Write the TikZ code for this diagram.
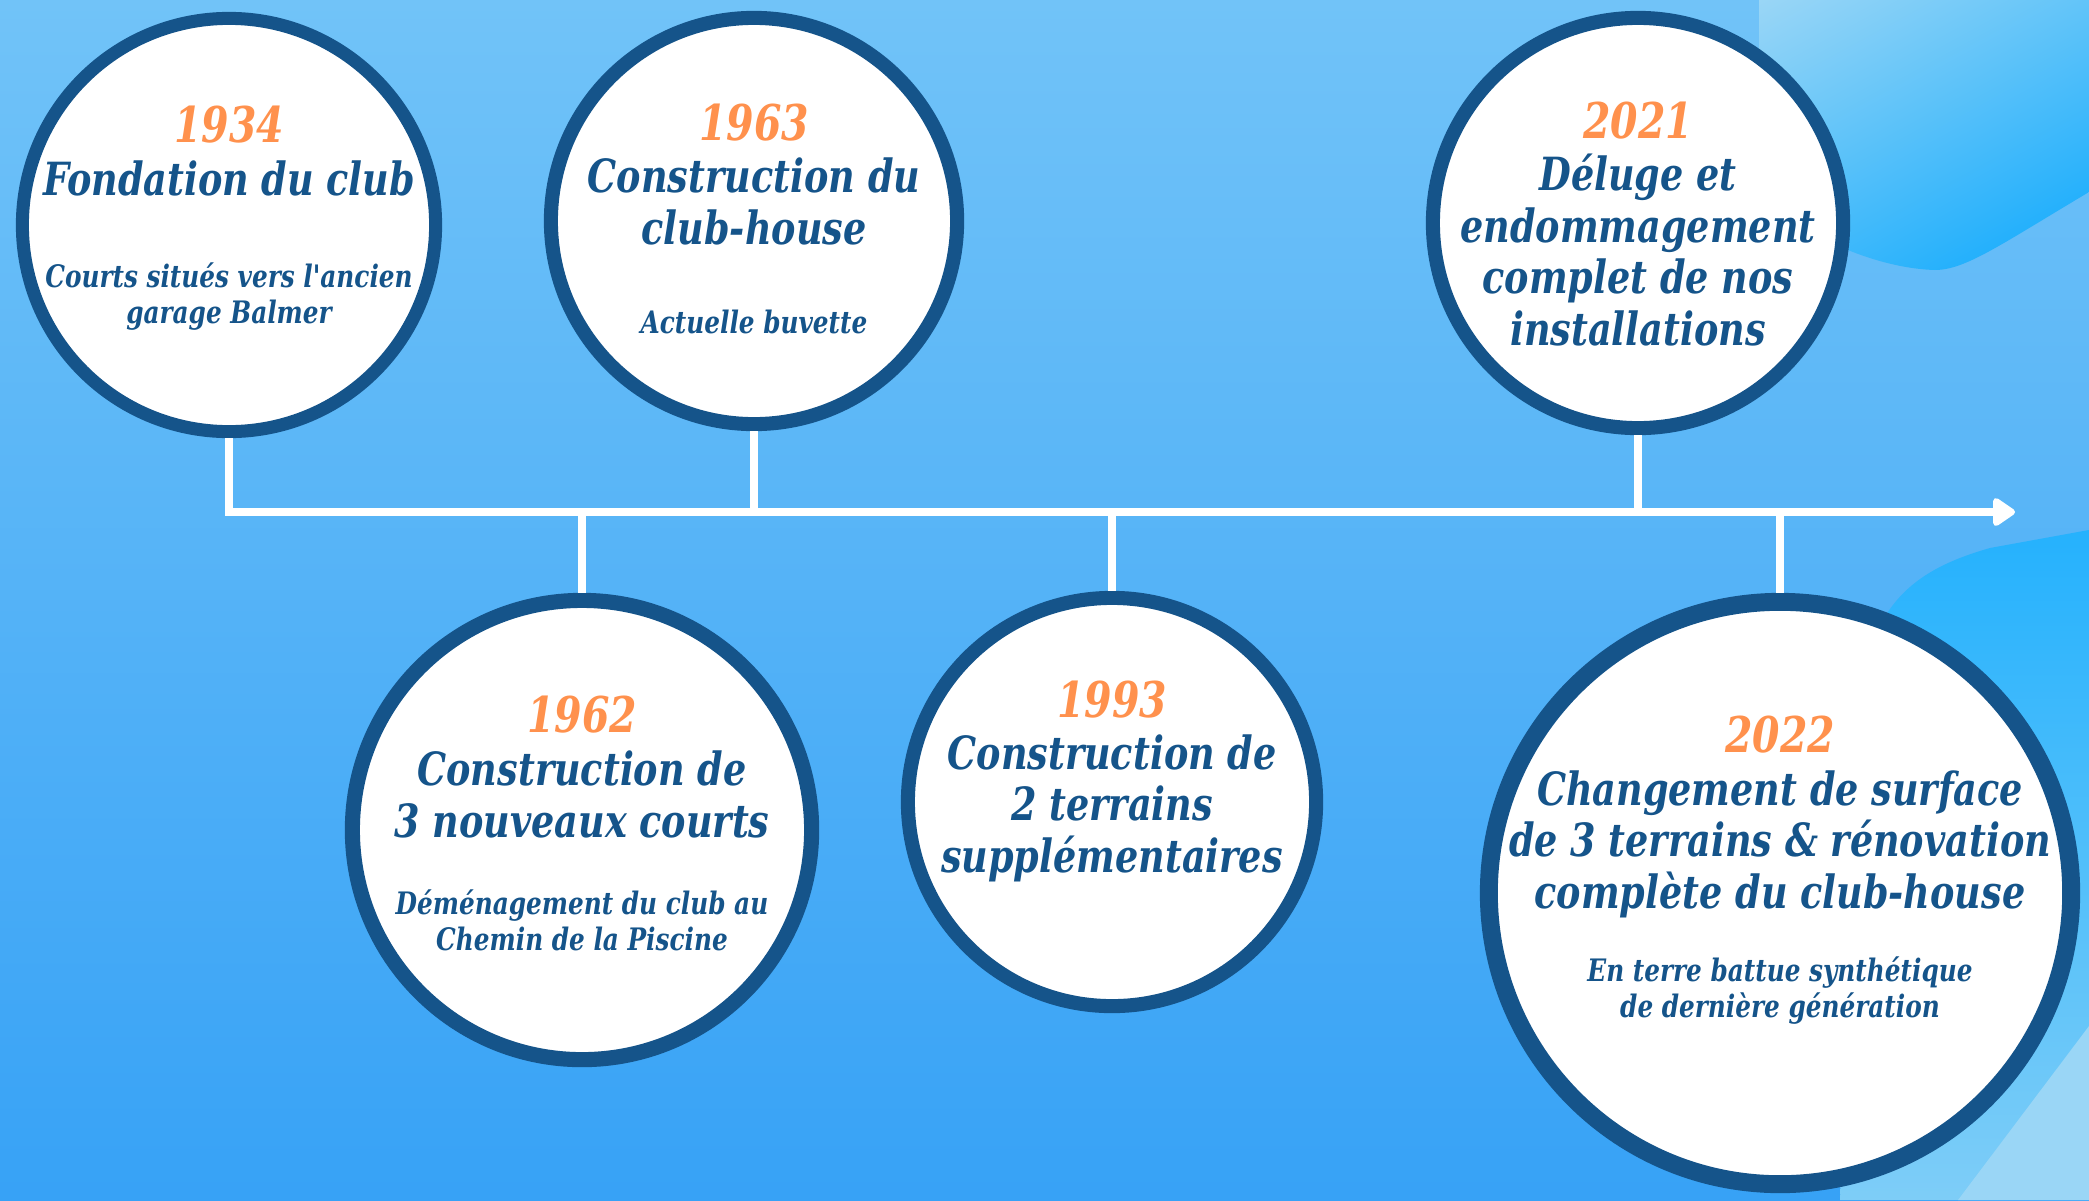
\documentclass[tikz,border=0pt]{standalone}
\usepackage{fontspec}
\newfontfamily\clubfont{DejaVu Serif Bold Italic}[FakeStretch=0.8]
\usetikzlibrary{arrows.meta, positioning, shadings}
\definecolor{ringblue}{HTML}{15548A}
\definecolor{yearorange}{HTML}{FF914D}
\definecolor{skytop}{HTML}{71C3F8}
\definecolor{skybottom}{HTML}{37A2F6}
\definecolor{blobpale}{HTML}{9AD6F6}
\definecolor{blobcyan}{HTML}{0DA9FD}
\tikzset{
  event/.style = {circle, draw=ringblue, fill=white, inner sep=0pt},
  year/.style = {anchor=base, text=yearorange, font=\clubfont\fontsize{14}{16}\selectfont},
  headline/.style = {anchor=base, text=ringblue, align=center, font=\clubfont\fontsize{13}{14.6}\selectfont},
  detail/.style = {anchor=base, text=ringblue, align=center, font=\clubfont\fontsize{8.8}{10.2}\selectfont},
  stem/.style = {draw=white, line width=2.3pt},
  axis/.style = {stem, -{Triangle[length=7pt, width=9pt, round]}}
}

\begin{document}
\begin{tikzpicture}[x=0.01cm, y=-0.01cm]

  % Background and blobs
  \useasboundingbox (0,0) rectangle (2089,1200);
  \shade[top color=skytop, bottom color=skybottom] (0,0) rectangle (2089,1200);
  \shade[upper left=blobpale, upper right=blobpale!60!blobcyan, lower left=blobcyan!60!blobpale, lower right=blobcyan]
    (1759,0) -- (1759,170) .. controls (1759,215) and (1860,268) .. (1935,270)
    .. controls (1965,270) and (2000,245) .. (2089,192) -- (2089,0) -- cycle;
  \shade[top color=blobcyan!90!white, bottom color=blobpale!80!blobcyan]
    (1860,700) .. controls (1870,600) and (1920,568) .. (1990,548) -- (2089,530)
    -- (2089,1200) -- (1840,1200) -- cycle;
  \fill[blobpale] (1958,1200) -- (2089,1026) -- (2089,1200) -- cycle;

  % Events above the axis
  \node (e1934) [event, line width=3.7pt, minimum size=4.13cm] at (229,225) {};
  \node (e1963) [event, line width=4pt, minimum size=4.06cm] at (754,221) {};
  \node (e2021) [event, line width=4pt, minimum size=4.10cm] at (1638,223) {};

  % Events below the axis
  \node (e1962) [event, line width=4.3pt, minimum size=4.59cm] at (582,830) {};
  \node (e1993) [event, line width=4pt, minimum size=4.08cm] at (1112,802) {};
  \node (e2022) [event, line width=5.1pt, minimum size=5.82cm] at (1780,893) {};

  % Axis and stems
  \coordinate (tip) at (2015,512);
  \draw[axis] (e1934.south) |- (tip);
  \foreach \e in {e1963, e2021}
    \draw[stem] (\e.south) -- (\e.south |- tip);
  \foreach \e in {e1962, e1993, e2022}
    \draw[stem] (\e.north) -- (\e.north |- tip);

  % 1934 (multi-line nodes sit on their last baseline)
  \node (y1934) [year] at (229,142) {1934};
  \node (t1934) [headline] at (229,195) {Fondation du club};
  \node (d1934) [detail] at (229,323) {Courts situés vers l'ancien\\garage Balmer};

  % 1963
  \node (y1963) [year] at (754,140) {1963};
  \node (t1963) [headline] at (754,244) {Construction du\\club-house};
  \node (d1963) [detail] at (754,333) {Actuelle buvette};

  % 2021
  \node (y2021) [year] at (1638,138) {2021};
  \node (t2021) [headline] at (1638,345) {Déluge et\\endommagement\\complet de nos\\installations};

  % 1962
  \node (y1962) [year] at (582,732) {1962};
  \node (t1962) [headline] at (582,837) {Construction de\\3 nouveaux courts};
  \node (d1962) [detail] at (582,950) {Déménagement du club au\\Chemin de la Piscine};

  % 1993
  \node (y1993) [year] at (1112,717) {1993};
  \node (t1993) [headline] at (1112,872) {Construction de\\2 terrains\\supplémentaires};

  % 2022
  \node (y2022) [year] at (1780,752) {2022};
  \node (t2022) [headline] at (1780,908) {Changement de surface\\de 3 terrains \& rénovation\\complète du club-house};
  \node (d2022) [detail] at (1780,1017) {En terre battue synthétique\\de dernière génération};

\end{tikzpicture}
\end{document}
